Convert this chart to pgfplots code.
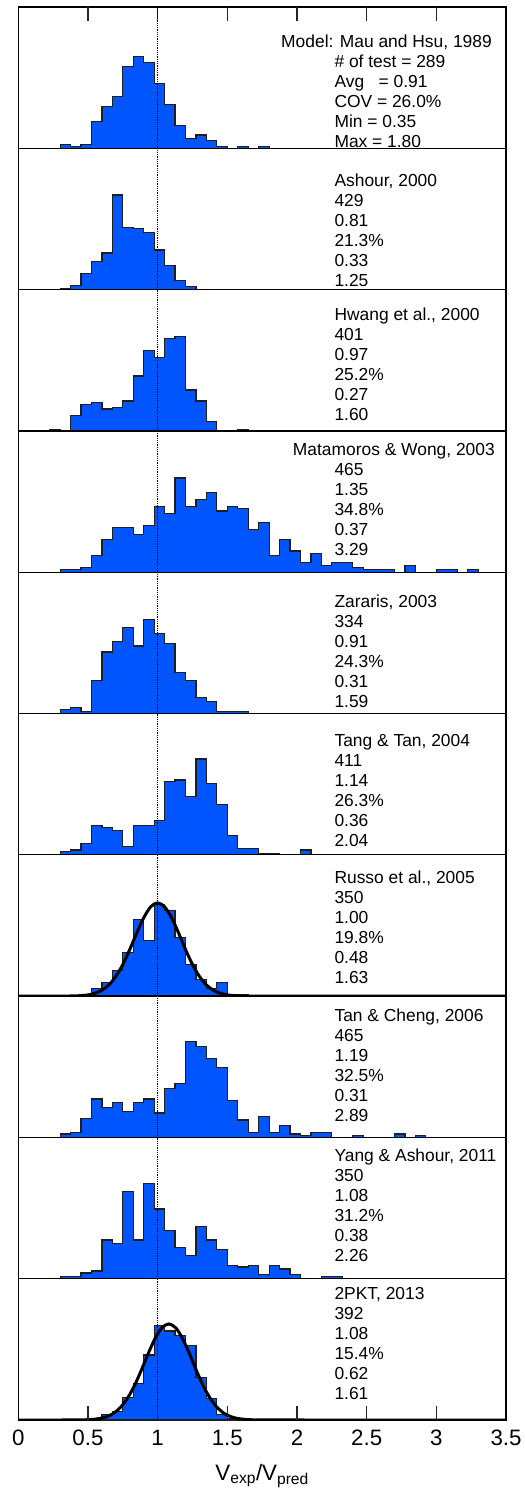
\documentclass[border=0pt]{standalone}
\usepackage{fontspec}
\setmainfont{Liberation Sans}
\usepackage{pgfplots}
\pgfplotsset{compat=1.18}
\usepgfplotslibrary{groupplots}
\usetikzlibrary{calc}

\definecolor{barblue}{RGB}{0,85,255}
\definecolor{barline}{RGB}{30,30,30}

\tikzset{stat/.style={anchor=base west, inner sep=0pt, font=\fontsize{17.4}{20}\selectfont},
         tickmark/.style={draw=black!85, line width=1.5pt}}

% statistics block: #1 first-line offset from the top (pt), #2 x of the title line (rel),
% #3 title, #4 count, #5 mean, #6 COV, #7 min, #8 max
\newcommand{\stats}[8]{%
  \node[stat] at (rel axis cs:#2,{1-(#1+6.2)/141.3}) {#3};
  \node[stat] at (rel axis cs:0.648,{1-(#1+26.2)/141.3}) {#4};
  \node[stat] at (rel axis cs:0.648,{1-(#1+46.2)/141.3}) {#5};
  \node[stat] at (rel axis cs:0.648,{1-(#1+66.2)/141.3}) {#6};
  \node[stat] at (rel axis cs:0.648,{1-(#1+86.2)/141.3}) {#7};
  \node[stat] at (rel axis cs:0.648,{1-(#1+106.2)/141.3}) {#8};
}
\newcommand{\refline}{\addplot[black, line width=0.8pt, densely dotted] coordinates {(1,0) (1,500)};}
% inward tick marks, 14pt long, on the upper edge of the top panel
\newcommand{\toptick}[1]{\draw[tickmark] (rel axis cs:{#1/3.5},1) -- (rel axis cs:{#1/3.5},{1-14/141.3});}

\begin{document}
\begin{tikzpicture}
\begin{groupplot}[
  group style={group size=1 by 10, vertical sep=0pt},
  scale only axis, width=487.7pt, height=141.3pt,
  xmin=0, xmax=3.5, ymin=0,
  ytick=\empty, xtick=\empty,
  axis line style={line width=1.2pt, black},
  histbar/.style={const plot mark left, fill=barblue, draw=barline, line width=1.2pt},
  normalfit/.style={black, line width=3pt, smooth},
  major tick length=0pt,
]
% Mau and Hsu, 1989
\nextgroupplot[ymax=74]
\coordinate (tl) at (rel axis cs:0,1);
\addplot[histbar] coordinates {(0.3,0) (0.3,2) (0.375,1) (0.45,2) (0.525,14) (0.6,22) (0.675,27) (0.75,43) (0.825,48) (0.9,45) (0.975,34) (1.05,23) (1.125,12) (1.2,5) (1.275,7) (1.35,4) (1.425,1) (1.5,0) (1.575,1) (1.65,0) (1.725,1) (1.8,0)} \closedcycle;
\toptick{0.5}\toptick{1}\toptick{1.5}\toptick{2}\toptick{2.5}\toptick{3}
\refline
\stats{34}{0.5387}{Model: Mau and Hsu, 1989}{\# of test = 289}{Avg\ \ \ = 0.91}{COV = 26.0\%}{Min = 0.35}{Max = 1.80}

% Ashour, 2000
\nextgroupplot[ymax=139]
\addplot[histbar] coordinates {(0.3,0) (0.3,1) (0.375,4) (0.45,16) (0.525,28) (0.6,36) (0.675,93) (0.75,61) (0.825,60) (0.9,56) (0.975,39) (1.05,24) (1.125,9) (1.2,3) (1.275,0)} \closedcycle;
\refline
\stats{31.7}{0.648}{Ashour, 2000}{429}{0.81}{21.3\%}{0.33}{1.25}

% Hwang et al., 2000
\nextgroupplot[ymax=90]
\addplot[histbar] coordinates {(0.225,0) (0.225,1) (0.3,0) (0.375,10) (0.45,17) (0.525,18) (0.6,14) (0.675,15) (0.75,19) (0.825,35) (0.9,51) (0.975,47) (1.05,59) (1.125,60) (1.2,26) (1.275,19) (1.35,6) (1.425,0) (1.5,0) (1.575,1) (1.65,0)} \closedcycle;
\refline
\stats{25}{0.648}{Hwang et al., 2000}{401}{0.97}{25.2\%}{0.27}{1.60}

% Matamoros & Wong, 2003
\nextgroupplot[ymax=60]
\addplot[histbar] coordinates {(0.3,0) (0.3,1) (0.375,1) (0.45,2) (0.525,7) (0.6,14) (0.675,19) (0.75,19) (0.825,16) (0.9,20) (0.975,28) (1.05,25) (1.125,40) (1.2,28) (1.275,31) (1.35,34) (1.425,26) (1.5,28) (1.575,27) (1.65,18) (1.725,21) (1.8,7) (1.875,14) (1.95,9) (2.025,4) (2.1,8) (2.175,3) (2.25,4) (2.325,4) (2.4,2) (2.475,1) (2.55,1) (2.625,1) (2.7,0) (2.775,3) (2.85,0) (2.925,0) (3.0,1) (3.075,1) (3.15,0) (3.225,1) (3.3,0)} \closedcycle;
\refline
\stats{18.3}{0.5627}{Matamoros \& Wong, 2003}{465}{1.35}{34.8\%}{0.37}{3.29}

% Zararis, 2003
\nextgroupplot[ymax=69]
\addplot[histbar] coordinates {(0.3,0) (0.3,2) (0.375,3) (0.45,1) (0.525,16) (0.6,30) (0.675,35) (0.75,42) (0.825,33) (0.9,46) (0.975,39) (1.05,34) (1.125,20) (1.2,16) (1.275,8) (1.35,6) (1.425,1) (1.5,1) (1.575,1) (1.65,0)} \closedcycle;
\refline
\stats{29.3}{0.648}{Zararis, 2003}{334}{0.91}{24.3\%}{0.31}{1.59}

% Tang & Tan, 2004
\nextgroupplot[ymax=87]
\addplot[histbar] coordinates {(0.3,0) (0.3,2) (0.375,3) (0.45,7) (0.525,18) (0.6,17) (0.675,15) (0.75,5) (0.825,18) (0.9,18) (0.975,21) (1.05,45) (1.125,46) (1.2,36) (1.275,59) (1.35,44) (1.425,31) (1.5,12) (1.575,4) (1.65,4) (1.725,1) (1.8,1) (1.875,0) (1.95,0) (2.025,3) (2.1,0)} \closedcycle;
\refline
\stats{26.7}{0.648}{Tang \& Tan, 2004}{411}{1.14}{26.3\%}{0.36}{2.04}

% Russo et al., 2005
\nextgroupplot[ymax=94]
\addplot[histbar] coordinates {(0.45,0) (0.45,1) (0.525,5) (0.6,9) (0.675,17) (0.75,29) (0.825,51) (0.9,37) (0.975,61) (1.05,57) (1.125,39) (1.2,21) (1.275,11) (1.35,5) (1.425,9) (1.5,0) (1.575,1) (1.65,0)} \closedcycle;
\addplot[normalfit] coordinates {(0,0) (0.3,0.01) (0.4,0.12) (0.45,0.33) (0.5,0.8) (0.55,1.9) (0.6,3.9) (0.65,7.4) (0.7,13.1) (0.75,21.0) (0.8,31.0) (0.85,42.0) (0.9,52.1) (0.95,59.4) (1,62) (1.05,59.4) (1.1,52.1) (1.15,42.0) (1.2,31.0) (1.25,21.0) (1.3,13.1) (1.35,7.4) (1.4,3.9) (1.45,1.9) (1.5,0.8) (1.55,0.33) (1.6,0.12) (1.7,0.01) (3.5,0)};
\refline
\stats{22.7}{0.648}{Russo et al., 2005}{350}{1.00}{19.8\%}{0.48}{1.63}

% Tan & Cheng, 2006
\nextgroupplot[ymax=81]
\addplot[histbar] coordinates {(0.3,0) (0.3,2) (0.375,3) (0.45,11) (0.525,22) (0.6,17) (0.675,20) (0.75,15) (0.825,20) (0.9,22) (0.975,14) (1.05,28) (1.125,31) (1.2,55) (1.275,52) (1.35,45) (1.425,40) (1.5,21) (1.575,10) (1.65,3) (1.725,12) (1.8,3) (1.875,7) (1.95,2) (2.025,1) (2.1,3) (2.175,3) (2.25,0) (2.325,0) (2.4,1) (2.475,0) (2.55,0) (2.625,0) (2.7,2) (2.775,0) (2.85,1) (2.925,0)} \closedcycle;
\refline
\stats{19.3}{0.648}{Tan \& Cheng, 2006}{465}{1.19}{32.5\%}{0.31}{2.89}

% Yang & Ashour, 2011
\nextgroupplot[ymax=73]
\addplot[histbar] coordinates {(0.3,0) (0.3,1) (0.375,1) (0.45,3) (0.525,4) (0.6,20) (0.675,18) (0.75,45) (0.825,20) (0.9,49) (0.975,36) (1.05,25) (1.125,16) (1.2,12) (1.275,27) (1.35,20) (1.425,15) (1.5,7) (1.575,6) (1.65,7) (1.725,2) (1.8,7) (1.875,5) (1.95,2) (2.025,0) (2.1,0) (2.175,1) (2.25,1) (2.325,0)} \closedcycle;
\refline
\stats{17.7}{0.648}{Yang \& Ashour, 2011}{350}{1.08}{31.2\%}{0.38}{2.26}

% 2PKT, 2013
\nextgroupplot[ymax=100, xtick={0,0.5,...,3.5}, xtick pos=left,
  xticklabel style={font=\fontsize{22.3}{26}\selectfont, yshift=-6.7pt},
  /pgf/number format/assume math mode=true]
\coordinate (xlab) at (rel axis cs:0.5,0);
\coordinate (bl) at (rel axis cs:0,0);
\coordinate (br) at (rel axis cs:1,0);
\addplot[histbar] coordinates {(0.6,0) (0.6,4) (0.675,6) (0.75,16) (0.825,26) (0.9,46) (0.975,67) (1.05,63) (1.125,60) (1.2,53) (1.275,30) (1.35,15) (1.425,4) (1.5,1) (1.575,1) (1.65,0)} \closedcycle;
\addplot[normalfit] coordinates {(0,0) (0.38,0.02) (0.48,0.16) (0.53,0.41) (0.58,1.0) (0.63,2.2) (0.68,4.5) (0.73,8.6) (0.78,14.9) (0.83,23.6) (0.88,34.6) (0.93,46.5) (0.98,57.4) (1.03,65.2) (1.08,68) (1.13,65.2) (1.18,57.4) (1.23,46.5) (1.28,34.6) (1.33,23.6) (1.38,14.9) (1.43,8.6) (1.48,4.5) (1.53,2.2) (1.58,1.0) (1.63,0.41) (1.68,0.16) (1.78,0.02) (3.5,0)};
\refline
\stats{15}{0.648}{2PKT, 2013}{392}{1.08}{15.4\%}{0.62}{1.61}
\end{groupplot}
% inward tick marks on the lower edge of the bottom panel, at 0.5, 1, ..., 3 of the 0--3.5 range
\foreach \t in {0.5,1,1.5,2,2.5,3}{
  \draw[tickmark] ($(bl)!{\t/3.5}!(br)$) -- ++(0,14pt);
}
\node[anchor=base, inner sep=0pt, font=\fontsize{22.3}{26}\selectfont] at ([yshift=-60pt]xlab) {V\textsubscript{exp}/V\textsubscript{pred}};
\pgfresetboundingbox
\path[use as bounding box] ([xshift=-18.3pt,yshift=7pt]tl) rectangle ([xshift=18pt,yshift=-77pt]br);
\end{tikzpicture}
\end{document}
